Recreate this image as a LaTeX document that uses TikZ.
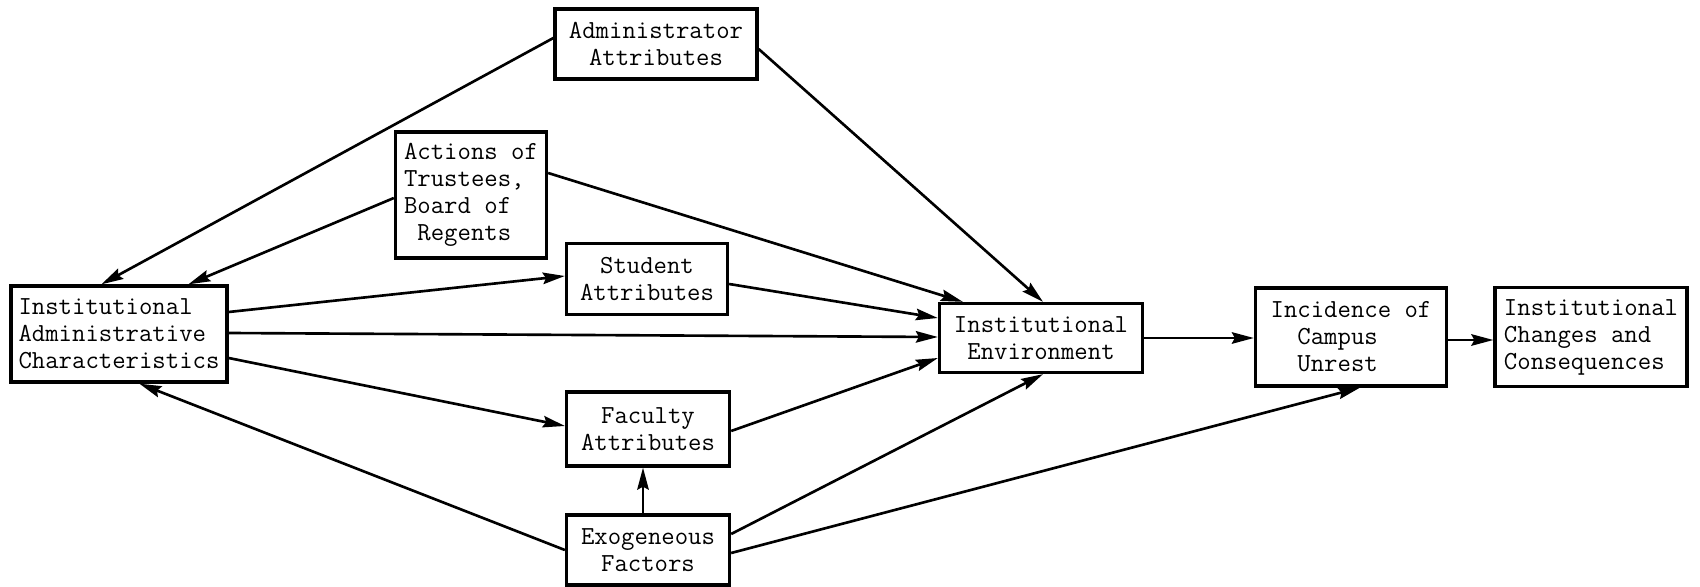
\documentclass[tikz,border=0pt]{standalone}
\usepackage{fontspec}
\usetikzlibrary{arrows.meta,calc}

\begin{document}
\begin{tikzpicture}[x=0.02cm,y=-0.02cm,
  box/.style={draw,line width=1.9pt,inner sep=0pt,align=center,font=\ttfamily\fontsize{14.8}{15.4}\selectfont},
  arr/.style={line width=1.5pt,-{Stealth[length=4.4mm,width=2.3mm,inset=0.6mm]}}]
\useasboundingbox (0,0) rectangle (1700,587);
\node[box,minimum width=4.32cm,minimum height=1.92cm,align=left] (iac) at (119,334) {Institutional\\Administrative\\Characteristics};
\node[box,minimum width=4.04cm,minimum height=1.40cm] (adm) at (656,44) {Administrator\\Attributes};
\node[box,minimum width=3.02cm,minimum height=2.52cm,align=left] (trs) at (471,195) {Actions of\\Trustees,\\Board of\\\hphantom{x}Regents};
\node[box,minimum width=3.22cm,minimum height=1.42cm] (stu) at (647,279) {Student\\Attributes};
\node[box,minimum width=3.26cm,minimum height=1.48cm] (fac) at (648,429) {Faculty\\Attributes};
\node[box,minimum width=3.26cm,minimum height=1.40cm] (exo) at (648,550) {Exogeneous\\Factors};
\node[box,minimum width=4.06cm,minimum height=1.38cm] (env) at (1041,338) {Institutional\\Environment};
\node[box,minimum width=3.82cm,minimum height=1.96cm,align=left] (unr) at (1351,337) {Incidence of\\\hphantom{xx}Campus\\\hphantom{xx}Unrest};
\node[box,minimum width=3.84cm,minimum height=1.98cm,align=left] (chg) at (1591,337) {Institutional\\Changes and\\Consequences};
\draw[arr] ($(adm.west)+(0,-6)$) -- ($(iac.north west)+(92,0)$);
\draw[arr] ($(trs.west)+(0,3)$) -- ($(iac.north west)+(179,0)$);
\draw[arr] ($(iac.east)+(0,-22)$) -- ($(stu.west)+(0,-3)$);
\draw[arr] ($(iac.east)+(0,-1)$) -- ($(env.west)+(0,-1)$);
\draw[arr] ($(iac.east)+(0,24)$) -- ($(fac.west)+(0,-3)$);
\draw[arr] (exo.west) -- ($(iac.south west)+(130,0)$);
\draw[arr] ($(adm.east)+(0,5)$) -- ($(env.north)+(2,0)$);
\draw[arr] ($(trs.east)+(0,-22)$) -- ($(env.north west)+(25,0)$);
\draw[arr] ($(stu.east)+(0,5)$) -- ($(env.west)+(0,-20)$);
\draw[arr] ($(fac.east)+(0,2)$) -- ($(env.west)+(0,20)$);
\draw[arr] ($(exo.north)+(-5,0)$) -- ($(fac.south)+(-5,0)$);
\draw[arr] ($(exo.east)+(0,-16)$) -- ($(env.south)+(2,0)$);
\draw[arr] ($(exo.east)+(0,3)$) -- ($(unr.south)+(9,0)$);
\draw[arr] (env.east) -- (unr.west|-env.east);
\draw[arr] ($(unr.east)+(0,3)$) -- ($(chg.west)+(0,3)$);
\end{tikzpicture}
\end{document}
